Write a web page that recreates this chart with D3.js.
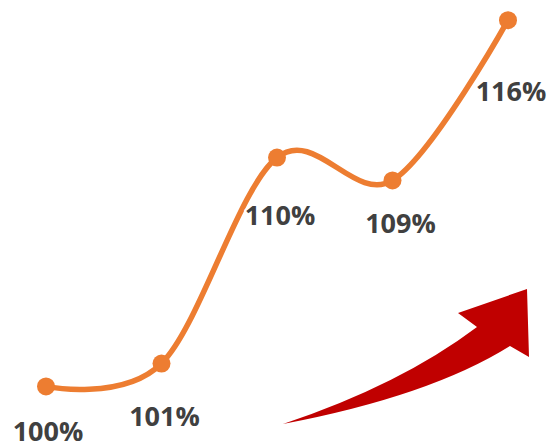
<!DOCTYPE html>
<html>
<head>
<meta charset="utf-8">
<script src="https://cdn.jsdelivr.net/npm/d3@7"></script>
<style>
  html, body { margin: 0; padding: 0; background: #fff; }
  svg { display: block; }
</style>
</head>
<body>
<script>
// Growth index by period
const periods = ["P1", "P2", "P3", "P4", "P5"];
const values = [100, 101, 110, 109, 116];
const valueLabels = ["100%", "101%", "110%", "109%", "116%"];

// Hand-placed label nudges (dx, dy in px below each point)
const labelNudge = [[2, 55], [3, 62], [3, 67], [8, 53], [3, 81]];

const W = 548, H = 445;
const lineColor = "#ED7D31";
const arrowColor = "#C00000";

const svg = d3.select("body").append("svg")
  .attr("width", W).attr("height", H);

const x = d3.scalePoint().domain(periods).range([46, 508]);
const y = d3.scaleLinear().domain([100, 116]).range([386.4, 20.2]);

// Decorative upward arrow
const a = d3.path();
a.moveTo(283, 424);
a.quadraticCurveTo(400, 385, 477, 327);
a.lineTo(458, 313);
a.lineTo(527, 289);
a.lineTo(529, 357);
a.lineTo(510, 346);
a.quadraticCurveTo(430, 396, 283, 424);
a.closePath();
svg.append("path").attr("d", a.toString()).attr("fill", arrowColor);

const data = periods.map((p, i) => ({ p, v: values[i], label: valueLabels[i], nudge: labelNudge[i] }));

const line = d3.line()
  .x(d => x(d.p))
  .y(d => y(d.v))
  .curve(d3.curveCardinal.tension(0));

svg.append("path")
  .datum(data)
  .attr("d", line)
  .attr("fill", "none")
  .attr("stroke", lineColor)
  .attr("stroke-width", 5.5)
  .attr("stroke-linecap", "round");

svg.selectAll("circle.pt")
  .data(data)
  .join("circle")
  .attr("class", "pt")
  .attr("cx", d => x(d.p))
  .attr("cy", d => y(d.v))
  .attr("r", 9)
  .attr("fill", lineColor);

svg.selectAll("text.lbl")
  .data(data)
  .join("text")
  .attr("class", "lbl")
  .attr("x", d => x(d.p) + d.nudge[0])
  .attr("y", d => y(d.v) + d.nudge[1])
  .attr("text-anchor", "middle")
  .attr("font-family", "'Open Sans', sans-serif")
  .attr("font-weight", 700)
  .attr("font-size", 27)
  .attr("fill", "#404040")
  .attr("stroke", "#fff")
  .attr("stroke-width", 4)
  .attr("stroke-linejoin", "round")
  .attr("paint-order", "stroke")
  .text(d => d.label);
</script>
</body>
</html>
